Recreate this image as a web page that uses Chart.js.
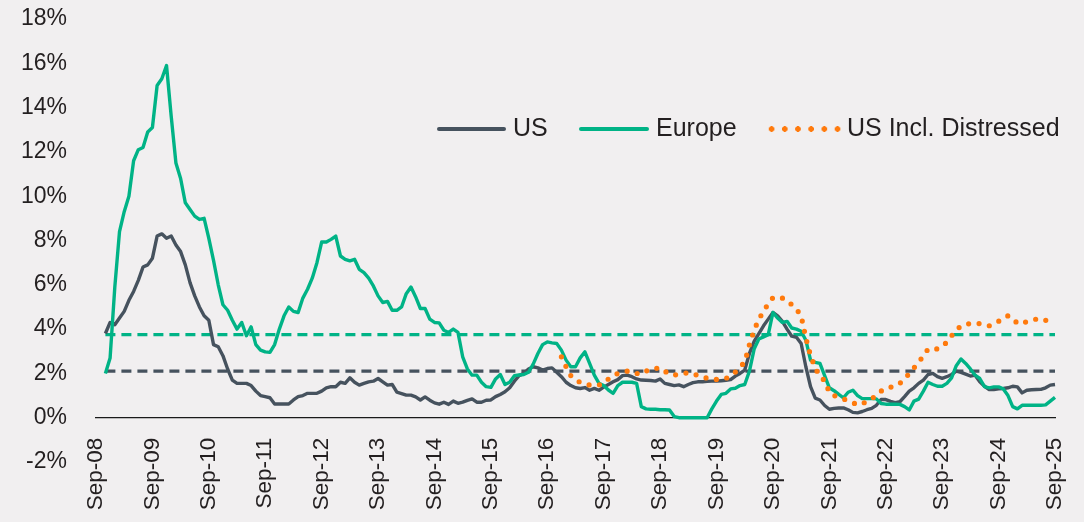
<!DOCTYPE html>
<html>
<head>
<meta charset="utf-8">
<title>Default rates: US, Europe, US incl. distressed</title>
<script src="https://cdn.jsdelivr.net/npm/chart.js@4.4.1/dist/chart.umd.min.js"></script>
<style>
    html, body { margin: 0; padding: 0; background: #f1eff0; }
    #wrap { position: relative; width: 1084px; height: 522px; background: #f1eff0; }
    #wrap canvas { position: absolute; left: 0; top: 0; }
    .legend { position: absolute; font-family: 'Liberation Sans', Arial, sans-serif; font-size: 25px; color: #231f20; line-height: 25px; white-space: nowrap; }
    .legend .swatch { position: absolute; height: 4px; border-radius: 2px; }
    .legend .label { position: absolute; top: 0; }
    .legend .dots { position: absolute; height: 6px;
        background: radial-gradient(circle, #ff7a0d 2.6px, transparent 3px) 0 0 / 13.2px 6px repeat-x; }
</style>
</head>
<body>
<div id="wrap">
    <canvas id="defaultChart" width="1084" height="522"></canvas>
    <!-- Leyenda dentro del área del gráfico -->
    <div class="legend" style="left:0; top:115px; width:1084px; height:30px;">
        <span class="swatch" style="left:437px; top:12px; width:69px; background:#46525e;"></span>
        <span class="label" style="left:513px;">US</span>
        <span class="swatch" style="left:579px; top:12px; width:70px; background:#00b386;"></span>
        <span class="label" style="left:656px;">Europe</span>
        <span class="dots" style="left:765px; top:11px; width:79px;"></span>
        <span class="label" style="left:847px;">US Incl. Distressed</span>
    </div>
</div>
<script>
// Datos mensuales, Sep-08 a Sep-25 (%)
const monthNames = ['Jan', 'Feb', 'Mar', 'Apr', 'May', 'Jun', 'Jul', 'Aug', 'Sep', 'Oct', 'Nov', 'Dec'];
const categories = [];
for (let i = 0; i <= 204; i++) {
    const m = 8 + i;
    categories.push(monthNames[m % 12] + '-' + String(8 + Math.floor(m / 12)).padStart(2, '0'));
}

const usRates = [
    null, null, 3.8, 4.3, 4.2, 4.5, 4.8, 5.3, 5.7, 6.2,
    6.8, 6.9, 7.2, 8.2, 8.3, 8.1, 8.2, 7.8, 7.5, 6.9,
    6.1, 5.5, 5.0, 4.6, 4.4, 3.3, 3.2, 2.8, 2.2, 1.7,
    1.55, 1.55, 1.55, 1.45, 1.2, 1.0, 0.95, 0.9, 0.62, 0.62,
    0.62, 0.62, 0.8, 0.95, 1.0, 1.1, 1.1, 1.1, 1.2, 1.35,
    1.4, 1.4, 1.6, 1.55, 1.8, 1.6, 1.47, 1.55, 1.62, 1.65,
    1.77, 1.62, 1.47, 1.5, 1.15, 1.09, 1.02, 1.02, 0.94, 0.8,
    0.94, 0.79, 0.67, 0.61, 0.7, 0.6, 0.75, 0.65, 0.7, 0.78,
    0.85, 0.7, 0.7, 0.79, 0.8, 0.95, 1.05, 1.17, 1.35, 1.65,
    1.9, 2.0, 2.2, 2.3, 2.25, 2.15, 2.22, 2.25, 2.05, 1.85,
    1.6, 1.45, 1.35, 1.32, 1.36, 1.24, 1.32, 1.24, 1.38, 1.5,
    1.62, 1.72, 1.9, 1.92, 1.85, 1.75, 1.7, 1.69, 1.68, 1.65,
    1.75, 1.55, 1.5, 1.45, 1.48, 1.4, 1.5, 1.58, 1.62, 1.62,
    1.64, 1.65, 1.65, 1.67, 1.69, 1.72, 1.88, 2.0, 2.15, 2.9,
    3.45, 3.8, 4.15, 4.45, 4.75, 4.6, 4.35, 4.0, 3.68, 3.63,
    3.35, 2.3, 1.4, 0.88, 0.8, 0.55, 0.38, 0.42, 0.44, 0.44,
    0.36, 0.24, 0.22, 0.28, 0.36, 0.42, 0.56, 0.82, 0.82, 0.74,
    0.68, 0.72, 0.95, 1.2, 1.35, 1.55, 1.7, 1.95, 2.0, 1.85,
    1.78, 1.85, 1.95, 2.1, 2.05, 1.97, 1.88, 1.92, 1.62, 1.42,
    1.27, 1.27, 1.3, 1.32, 1.35, 1.42, 1.39, 1.12, 1.24, 1.26,
    1.27, 1.28, 1.35, 1.47, 1.5
];

const europeRates = [
    null, null, 2.0, 2.7, 5.9, 8.4, 9.3, 10.0, 11.6, 12.1,
    12.2, 12.9, 13.1, 15.0, 15.3, 15.9, 13.6, 11.5, 10.8, 9.7,
    9.4, 9.1, 8.95, 9.0, 8.1, 7.1, 6.0, 5.1, 4.85, 4.4,
    4.0, 4.3, 3.7, 4.1, 3.3, 3.05, 2.97, 2.95, 3.3, 4.0,
    4.6, 5.0, 4.8, 4.75, 5.4, 5.8, 6.3, 7.0, 7.93, 7.93,
    8.05, 8.2, 7.3, 7.15, 7.08, 7.15, 6.7, 6.55, 6.3, 5.95,
    5.5, 5.2, 5.25, 4.85, 4.85, 5.0, 5.6, 5.9, 5.45, 4.93,
    4.93, 4.45, 4.3, 4.28, 3.95, 3.85, 4.0, 3.85, 2.75, 2.2,
    1.92, 1.92, 1.6, 1.4, 1.37, 1.75, 1.95, 1.5, 1.6, 1.9,
    1.93, 1.95, 2.05, 2.42, 2.9, 3.3, 3.42, 3.38, 3.35, 3.05,
    2.6, 2.3, 2.3, 2.7, 2.97, 2.45, 1.92, 1.55, 1.45, 1.25,
    1.1, 1.45, 1.6, 1.6, 1.6, 1.55, 0.5, 0.4, 0.38, 0.38,
    0.36, 0.36, 0.35, 0.05, 0, 0, 0, 0, 0, 0,
    0, 0.4, 0.75, 1.05, 1.1, 1.3, 1.33, 1.45, 1.5, 2.1,
    3.1, 3.55, 3.65, 3.75, 4.75, 4.5, 4.3, 4.35, 4.05, 4.0,
    3.9, 3.5, 2.6, 2.5, 2.45, 1.9, 1.35, 1.22, 1.05, 0.9,
    1.15, 1.24, 1.0, 0.86, 0.86, 0.86, 0.85, 0.64, 0.61, 0.61,
    0.61, 0.6, 0.5, 0.35, 0.75, 0.84, 1.2, 1.6, 1.5, 1.42,
    1.42, 1.55, 1.8, 2.35, 2.65, 2.45, 2.2, 1.92, 1.77, 1.4,
    1.35, 1.39, 1.39, 1.3, 1.0, 0.5, 0.4, 0.56, 0.56, 0.56,
    0.56, 0.56, 0.58, 0.75, 0.92
];

const usDistressedRates = [
    null, null, null, null, null, null, null, null, null, null,
    null, null, null, null, null, null, null, null, null, null,
    null, null, null, null, null, null, null, null, null, null,
    null, null, null, null, null, null, null, null, null, null,
    null, null, null, null, null, null, null, null, null, null,
    null, null, null, null, null, null, null, null, null, null,
    null, null, null, null, null, null, null, null, null, null,
    null, null, null, null, null, null, null, null, null, null,
    null, null, null, null, null, null, null, null, null, null,
    null, null, null, null, null, null, null, null, null, 2.75,
    2.3, 1.9, 1.7, 1.6, 1.55, 1.47, 1.45, 1.48, 1.55, 1.75,
    1.9, 2.0, 2.05, 2.1, 2.1, 2.0, 1.97, 2.1, 2.2, 2.22,
    2.25, 2.1, 1.95, 1.93, 1.95, 2.0, 2.03, 2.0, 1.9, 1.84,
    1.78, 1.73, 1.73, 1.75, 1.77, 1.9, 2.06, 2.3, 2.5, 3.3,
    3.95, 4.45, 4.8, 5.15, 5.42, 5.45, 5.4, 5.3, 5.1, 4.9,
    4.6, 3.6, 2.8, 2.25, 1.85, 1.68, 1.15, 1.0, 0.92, 0.85,
    0.76, 0.68, 0.58, 0.62, 0.75, 0.86, 1.0, 1.2, 1.33, 1.38,
    1.42, 1.55, 1.75, 2.0, 2.25, 2.5, 2.8, 3.1, 3.12, 3.1,
    3.25, 3.4, 3.7, 3.95, 4.15, 4.2, 4.26, 4.25, 4.25, 4.2,
    4.15, 4.25, 4.35, 4.5, 4.6, 4.5, 4.25, 4.28, 4.33, 4.4,
    4.45, 4.48, 4.4, 4.3, 4.3
];

// Promedios de largo plazo (líneas discontinuas)
const usAverage = 2.1;
const europeAverage = 3.75;

const yTicks = [-2, 0, 2, 4, 6, 8, 10, 12, 14, 16, 18];

const colorUS = '#46525e';
const colorEurope = '#00b386';
const colorDistressed = '#ff7a0d';
const fontFamily = "'Liberation Sans', Arial, sans-serif";

document.addEventListener('DOMContentLoaded', function() {
    initializeChart();
});

function initializeChart() {
    const ctx = document.getElementById('defaultChart').getContext('2d');

    // Línea de promedio solo donde hay datos
    const usAverageLine = usRates.map(v => v === null ? null : usAverage);
    const europeAverageLine = europeRates.map(v => v === null ? null : europeAverage);

    new Chart(ctx, {
        type: 'line',
        data: {
            labels: categories,
            datasets: [
                {
                    label: 'US Incl. Distressed',
                    data: usDistressedRates,
                    borderColor: colorDistressed,
                    borderWidth: 5.2,
                    borderDash: [0, 10.5],
                    borderCapStyle: 'round',
                    pointRadius: 0,
                    tension: 0,
                    order: 0
                },
                {
                    label: 'Europe',
                    data: europeRates,
                    borderColor: colorEurope,
                    borderWidth: 3.4,
                    borderJoinStyle: 'round',
                    pointRadius: 0,
                    tension: 0,
                    order: 1
                },
                {
                    label: 'US',
                    data: usRates,
                    borderColor: colorUS,
                    borderWidth: 3.4,
                    borderJoinStyle: 'round',
                    pointRadius: 0,
                    tension: 0,
                    order: 2
                },
                {
                    label: 'Europe average',
                    data: europeAverageLine,
                    borderColor: colorEurope,
                    borderWidth: 3.3,
                    borderDash: [10, 6],
                    pointRadius: 0,
                    order: 3
                },
                {
                    label: 'US average',
                    data: usAverageLine,
                    borderColor: colorUS,
                    borderWidth: 3.3,
                    borderDash: [10, 6],
                    pointRadius: 0,
                    order: 4
                }
            ]
        },
        options: {
            responsive: false,
            animation: false,
            events: [],
            layout: {
                padding: { top: 19, right: 29, bottom: 60, left: 0 }
            },
            plugins: {
                legend: { display: false },
                tooltip: { enabled: false }
            },
            scales: {
                x: {
                    type: 'category',
                    position: { y: 0 },
                    grid: { display: false, drawTicks: false },
                    border: { display: true, color: '#1a1a1a', width: 1.3 },
                    afterFit: function(scale) {
                        // las etiquetas giradas no deben estrechar el área del gráfico
                        scale.paddingLeft = 0;
                        scale.paddingRight = 0;
                    },
                    ticks: {
                        autoSkip: false,
                        minRotation: 90,
                        maxRotation: 90,
                        padding: 20,
                        color: '#231f20',
                        font: { family: fontFamily, size: 22.5 },
                        callback: function(value, index) {
                            return index % 12 === 0 ? categories[index] : null;
                        }
                    }
                },
                y: {
                    min: yTicks[0],
                    max: yTicks[yTicks.length - 1],
                    afterBuildTicks: function(scale) {
                        scale.ticks = yTicks.map(v => ({ value: v }));
                    },
                    afterFit: function(scale) {
                        scale.width = 96;
                        scale.paddingTop = 0;
                        scale.paddingBottom = 0;
                    },
                    grid: { display: false, drawTicks: false },
                    border: { display: false },
                    ticks: {
                        padding: 29,
                        color: '#231f20',
                        font: { family: fontFamily, size: 23 },
                        callback: function(value) {
                            return value + '%';
                        }
                    }
                }
            }
        }
    });
}
</script>
</body>
</html>
